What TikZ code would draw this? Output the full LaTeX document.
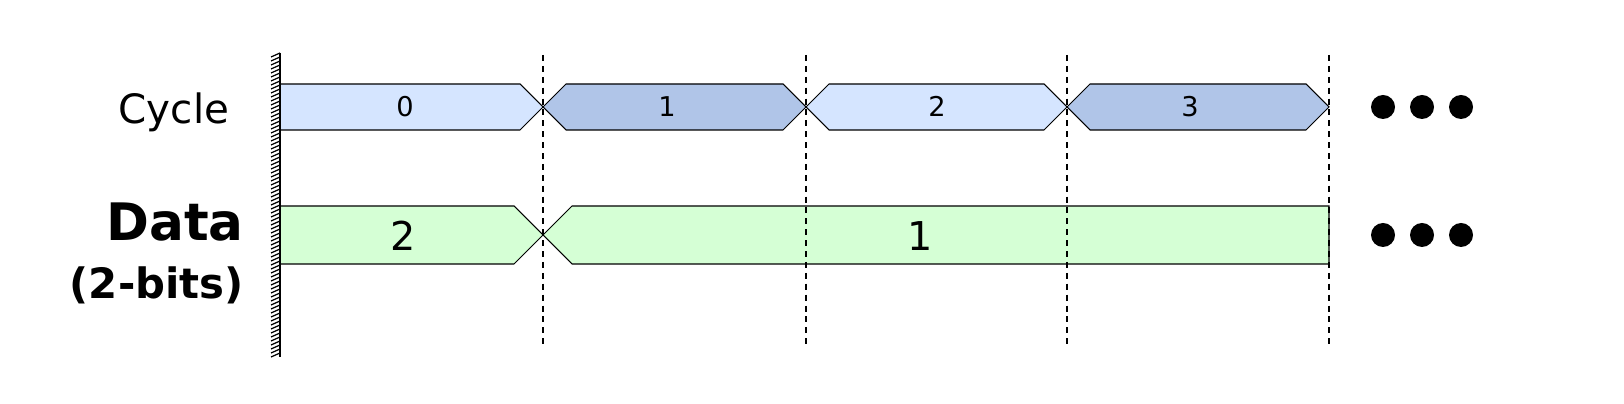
\documentclass[tikz,border=0pt]{standalone}
\usepackage{fontspec}
\setmainfont{DejaVu Sans}
\definecolor{cyclelite}{HTML}{D5E5FF}
\definecolor{cycledark}{HTML}{B0C5E8}
\definecolor{datagreen}{HTML}{D5FFD5}
\begin{document}
\begin{tikzpicture}[x=0.02cm,y=-0.02cm,
    sig/.style={draw=black, line width=0.6pt, line join=miter},
    tick/.style={dash pattern=on 3.4pt off 2.8pt, line width=1.1pt},
    every node/.style={inner sep=0pt}]
    \useasboundingbox (0,0) rectangle (1624,404);

    \draw [sig, fill=cyclelite] (280,84)--(520,84)--(543,107)--(520,130)--(280,130)--cycle;
    \foreach \a/\b/\c in {543/806/cycledark, 806/1067/cyclelite, 1067/1329/cycledark}
        \draw [sig, fill=\c] (\a,107)--(\a+23,84)--(\b-23,84)--(\b,107)--(\b-23,130)--(\a+23,130)--cycle;
    \draw [sig, fill=datagreen] (280,206)--(514,206)--(543,235)--(514,264)--(280,264)--cycle;
    \draw [sig, fill=datagreen] (543,235)--(572,206)--(1329,206)--(1329,264)--(572,264)--cycle;

    \foreach \x in {543,806,1067,1329} \draw [tick] (\x,55)--(\x,348);

    \draw [line width=0.9pt] (280,53)--(280,357);
    \foreach \y in {53,57,...,353} \draw [line width=0.7pt] (271,\y+4)--(280,\y);

    \node (cyc) at (174,124)[anchor=base]{\fontsize{23}{27}\selectfont Cycle};
    \node (dat) at (244,241)[anchor=base east]{\fontsize{29.4}{35}\selectfont\bfseries Data};
    \node (bits) at (244,299)[anchor=base east]{\fontsize{23.8}{28}\selectfont\bfseries (2-bits)};

    \node (c0) at (405,117)[anchor=base]{\fontsize{15.5}{18}\selectfont 0};
    \node (c1) at (667,117)[anchor=base]{\fontsize{15.5}{18}\selectfont 1};
    \node (c2) at (937,117)[anchor=base]{\fontsize{15.5}{18}\selectfont 2};
    \node (c3) at (1190,117)[anchor=base]{\fontsize{15.5}{18}\selectfont 3};
    \node (d0) at (403,251)[anchor=base]{\fontsize{22.6}{27}\selectfont 2};
    \node (d1) at (920,251)[anchor=base]{\fontsize{22.6}{27}\selectfont 1};

    \foreach \x in {1383,1422,1461} {\fill (\x,107) circle (0.24cm); \fill (\x,235) circle (0.24cm);}
\end{tikzpicture}
\end{document}
